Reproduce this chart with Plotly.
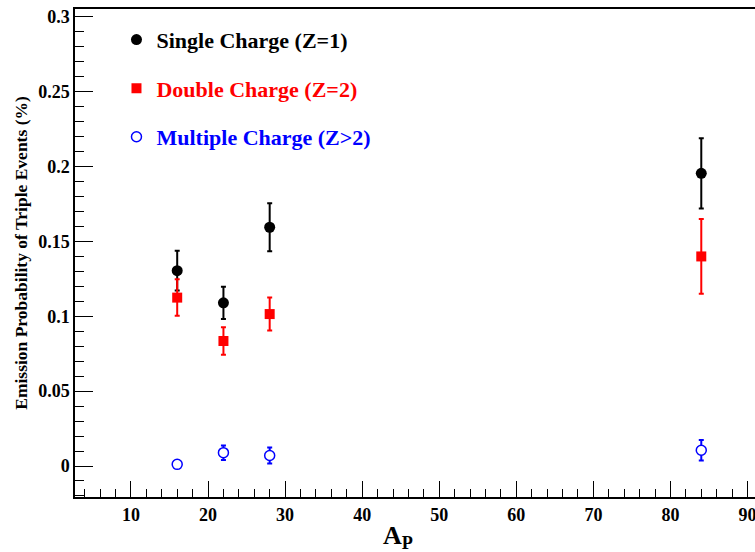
import plotly.graph_objects as go

# Data
ap = [16, 22, 28, 84]
single_y = [0.1305, 0.109, 0.1595, 0.1955]
single_err = [0.0133, 0.0108, 0.016, 0.0234]
double_y = [0.1125, 0.0835, 0.1015, 0.1400]
double_err = [0.0122, 0.0092, 0.011, 0.0250]
multi_y = [0.0011, 0.0089, 0.0070, 0.0105]
multi_err = [0.0008, 0.0048, 0.0054, 0.0068]

names = ["Single Charge (Z=1)", "Double Charge (Z=2)", "Multiple Charge (Z>2)"]
colors = ["black", "red", "blue"]

FONT = "Liberation Serif"

fig = go.Figure()

fig.add_trace(go.Scatter(
    x=ap, y=single_y, mode="markers", legendgroup="a",
    name=f"<span style='color:{colors[0]}'>{names[0]}</span>",
    marker=dict(symbol="circle", size=11, color="black"),
    error_y=dict(type="data", array=single_err, color="black", thickness=2, width=2.5),
))
fig.add_trace(go.Scatter(
    x=ap, y=double_y, mode="markers", legendgroup="b",
    name=f"<span style='color:{colors[1]}'>{names[1]}</span>",
    marker=dict(symbol="square", size=10, color="red"),
    error_y=dict(type="data", array=double_err, color="red", thickness=2, width=2.5),
))
fig.add_trace(go.Scatter(
    x=ap, y=multi_y, mode="markers", legendgroup="c",
    name=f"<span style='color:{colors[2]}'>{names[2]}</span>",
    marker=dict(symbol="circle", size=10, color="white", line=dict(color="blue", width=1.5)),
    error_y=dict(type="data", array=multi_err, color="blue", thickness=2, width=2.5),
))

fig.update_layout(
    width=755, height=552,
    margin=dict(l=75, r=0, t=9, b=55),
    paper_bgcolor="white", plot_bgcolor="white",
    font=dict(family=FONT, color="black"),
    legend=dict(
        x=0.061, y=0.98, xanchor="left", yanchor="top",
        font=dict(family=FONT, size=22, weight="bold"),
        bgcolor="rgba(0,0,0,0)", tracegroupgap=17,
    ),
    xaxis=dict(
        range=[2.74, 90.97], showgrid=False, zeroline=False, automargin=False,
        showline=True, linecolor="black", linewidth=2, mirror=True,
        ticks="inside", ticklen=16, tickwidth=1.2, tickcolor="black",
        tick0=0, dtick=10, ticklabeloverflow="allow",
        minor=dict(ticks="inside", ticklen=8, tickwidth=1.2, tickcolor="black", dtick=2, tick0=0),
        tickfont=dict(family=FONT, size=18, weight="bold"),
    ),
    yaxis=dict(
        range=[-0.0207, 0.3053], showgrid=False, zeroline=False, automargin=False,
        showline=True, linecolor="black", linewidth=1.5,
        ticks="inside", ticklen=18, tickwidth=1.2, tickcolor="black",
        tick0=0, dtick=0.05, ticklabeloverflow="allow",
        minor=dict(ticks="inside", ticklen=9, tickwidth=1.2, tickcolor="black", dtick=0.01, tick0=0),
        tickfont=dict(family=FONT, size=18, weight="bold"),
        title=dict(text="Emission Probability of Triple Events (%)",
                   font=dict(family=FONT, size=17.5, weight="bold"), standoff=6),
    ),
    annotations=[dict(
        text="A<sub>P</sub>", xref="paper", yref="paper", x=0.475, y=-0.082,
        xanchor="center", yanchor="middle", showarrow=False,
        font=dict(family=FONT, size=26, weight="bold", color="black"),
    )],
)

fig.write_html("out.html", config={"displayModeBar": False},
               post_script="document.body.style.margin='0';")
